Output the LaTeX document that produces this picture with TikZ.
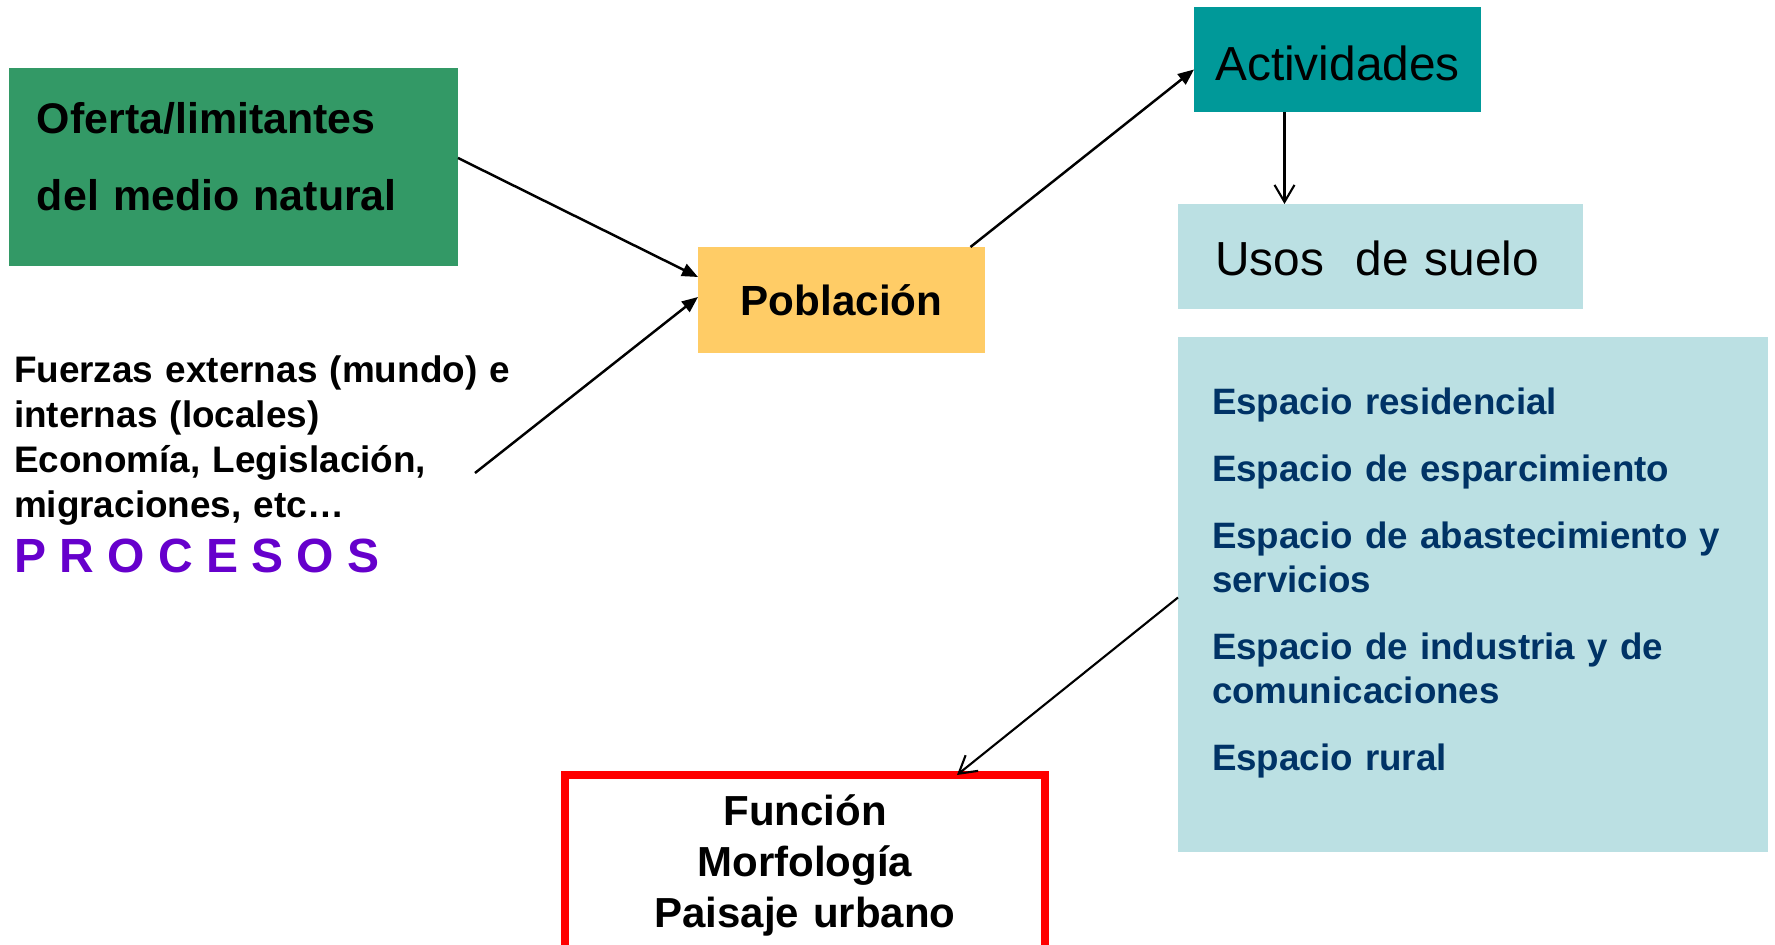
\documentclass[tikz,border=0pt]{standalone}
\usepackage{fontspec}
\setmainfont{Liberation Sans}
\usetikzlibrary{arrows.meta}
\definecolor{verdeMedio}{HTML}{339966}
\definecolor{amarilloPob}{HTML}{FFCC66}
\definecolor{turquesa}{HTML}{009999}
\definecolor{celeste}{HTML}{BBE0E3}
\definecolor{azulOsc}{HTML}{003366}
\definecolor{morado}{HTML}{6600CC}

\begin{document}
\begin{tikzpicture}[
    arr/.style={line width=0.7pt, -{Triangle[length=1.6mm,width=1.3mm]}},
    arrv/.style={line width=0.6pt, -{Straight Barb[length=1.7mm,width=2mm]}},
    box/.style={
        rectangle,
        inner sep=0pt,
        outer sep=0pt,
      },
    txt/.style={inner sep=0pt, outer sep=0pt},
  ]
  \useasboundingbox (0,0) rectangle (17.75,-9.45);

  \node[box, fill=verdeMedio, anchor=north west, align=left,
    text width=3.93cm, inner xsep=2.8mm, text height=6.6mm, text depth=13.2mm,
    font=\bfseries\fontsize{12.2pt}{21.9pt}\selectfont] (med) at (0.09,-0.68)
    {Oferta/limitantes\\del medio natural};

  \node[box, fill=amarilloPob, minimum width=2.87cm, minimum height=1.06cm,
    font=\bfseries\fontsize{12pt}{14pt}\selectfont] (pob) at (8.415,-3.0) {Población};

  \node[box, fill=turquesa, minimum width=2.87cm, minimum height=1.05cm,
    text height=4.2mm, text depth=0pt,
    font=\fontsize{13.6pt}{16pt}\selectfont] (act) at (13.375,-0.595) {Actividades};

  \node[box, fill=celeste, anchor=north west, align=left,
    text width=3.31cm, inner xsep=3.7mm, text height=7.2mm, text depth=3.3mm,
    font=\fontsize{13.6pt}{16pt}\selectfont] (usos) at (11.78,-2.04) {Usos\ \ de suelo};

  \node[box, fill=celeste, anchor=north west, align=left, text=azulOsc,
    text width=5.22cm, inner xsep=3.4mm, text height=7.8mm, text depth=43.7mm,
    font=\bfseries\fontsize{10.45pt}{12.5pt}\selectfont] (esp) at (11.78,-3.37)
    {Espacio residencial\\[2.3mm]
     Espacio de esparcimiento\\[2.3mm]
     Espacio de abastecimiento y\\servicios\\[2.3mm]
     Espacio de industria y de\\comunicaciones\\[2.3mm]
     Espacio rural};

  \node[box, draw=red, line width=2.2pt, anchor=north, align=center,
    text width=4.8cm, text height=5.1mm, text depth=13.4mm,
    font=\bfseries\fontsize{11.95pt}{14.5pt}\selectfont] (fun) at (8.05,-7.75)
    {Función\\Morfología\\Paisaje urbano};

  \node[txt, anchor=north west, align=left, text width=5.2cm, text height=3.2mm,
    font=\bfseries\fontsize{10.5pt}{12.8pt}\selectfont] (fz) at (0.14,-3.51)
    {Fuerzas externas (mundo) e\\internas (locales)\\Economía, Legislación,\\migraciones, etc\dots};
  \node[txt, anchor=base west, text=morado,
    font=\bfseries\fontsize{13.66pt}{16pt}\selectfont] (proc) at (0.14,-5.73) {P R O C E S O S};

  \coordinate (fzout) at (4.75,-4.73);

  \draw[arr] ([yshift=0.9mm]med.east) -- ([yshift=2.3mm]pob.west);
  \draw[arr] (fzout) -- ([yshift=0.3mm]pob.west);
  \draw[arr] ([xshift=12.9mm]pob.north) -- ([yshift=-1mm]act.west);
  \draw[arrv] ([xshift=-5.3mm]act.south) -- ([xshift=-5.3mm]act.south |- usos.north);
  \draw[arrv] ([yshift=-0.3mm]esp.west) -- ([xshift=15.2mm]fun.north);
\end{tikzpicture}
\end{document}
